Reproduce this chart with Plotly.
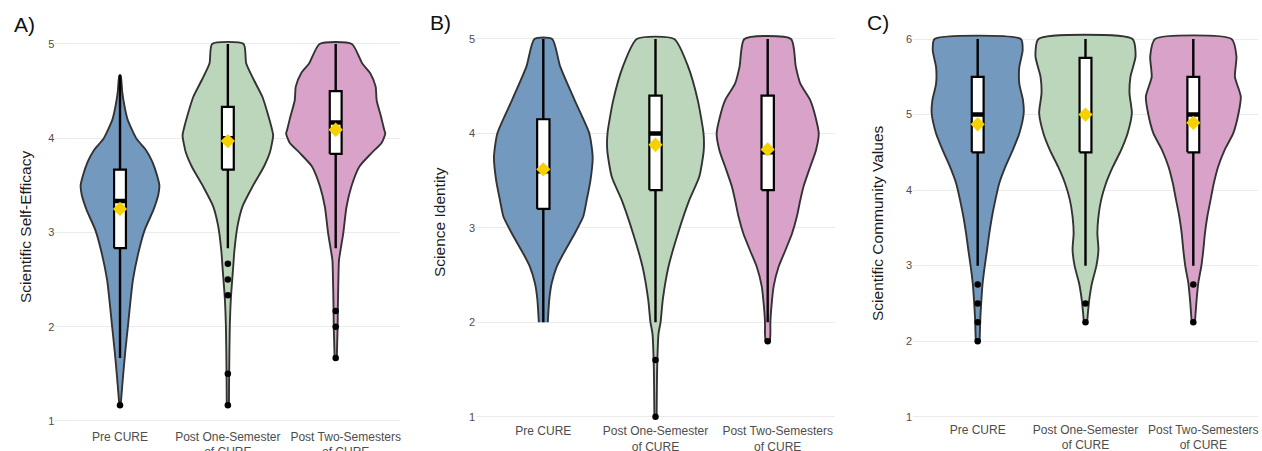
import plotly.graph_objects as go

# ---------------- data ----------------
NB = "\u00a0" * 6
categories = ["Pre CURE", "Post One-Semester<br>of CURE",
              NB + "Post Two-Semesters<br>" + NB + "of CURE"]

# Panel A: Scientific Self-Efficacy  (density profiles: level -> half width)
se_pre_y = [1.167, 1.25, 1.5, 1.75, 2.0, 2.25, 2.5, 2.83, 3.03, 3.24, 3.4, 3.5, 3.6, 3.75, 3.875, 4.0, 4.2, 4.35, 4.5, 4.667]
se_pre_d = [0.006, 0.012, 0.03, 0.05, 0.073, 0.095, 0.12, 0.18, 0.23, 0.31, 0.355, 0.365, 0.345, 0.30, 0.24, 0.15, 0.07, 0.04, 0.02, 0.006]
se_one_y = [1.167, 1.5, 2.0, 2.3, 2.64, 2.8, 3.07, 3.28, 3.49, 3.70, 3.85, 4.03, 4.09, 4.26, 4.44, 4.62, 4.795, 5.0]
se_one_d = [0.01, 0.012, 0.018, 0.028, 0.05, 0.06, 0.09, 0.137, 0.23, 0.335, 0.39, 0.42, 0.41, 0.37, 0.32, 0.24, 0.17, 0.146]
se_two_y = [1.667, 2.0, 2.2, 2.5, 2.7, 2.78, 2.99, 3.27, 3.49, 3.70, 3.84, 3.95, 4.05, 4.09, 4.23, 4.4, 4.55, 4.69, 4.795, 5.0]
se_two_d = [0.01, 0.018, 0.02, 0.025, 0.03, 0.04, 0.07, 0.10, 0.146, 0.22, 0.33, 0.425, 0.46, 0.45, 0.42, 0.38, 0.37, 0.32, 0.245, 0.15]
se_q1 = [2.833, 3.667, 3.833]
se_med = [3.333, 4.0, 4.167]
se_q3 = [3.667, 4.333, 4.5]
se_lo = [1.667, 2.833, 2.833]
se_hi = [4.667, 5.0, 5.0]
se_mean = [3.25, 3.97, 4.09]
se_out = [[1.167], [2.667, 2.5, 2.333, 1.5, 1.167], [2.167, 2.0, 1.667]]

# Panel B: Science Identity
si_pre_y = [2.0, 2.24, 2.41, 2.59, 2.73, 2.94, 3.12, 3.29, 3.5, 3.75, 4.0, 4.35, 4.71, 5.0]
si_pre_d = [0.04, 0.053, 0.074, 0.12, 0.18, 0.28, 0.356, 0.386, 0.42, 0.44, 0.41, 0.28, 0.15, 0.079]
si_one_y = [1.0, 1.53, 1.88, 2.0, 2.24, 2.59, 2.94, 3.29, 3.54, 3.82, 4.0, 4.35, 4.71, 5.0]
si_one_d = [0.01, 0.015, 0.027, 0.045, 0.065, 0.116, 0.20, 0.30, 0.39, 0.43, 0.428, 0.377, 0.29, 0.167]
si_two_y = [1.8, 1.88, 2.0, 2.16, 2.38, 2.59, 2.76, 2.94, 3.12, 3.29, 3.44, 3.65, 3.82, 4.0, 4.18, 4.35, 4.53, 4.71, 5.0]
si_two_d = [0.02, 0.024, 0.024, 0.033, 0.053, 0.098, 0.157, 0.217, 0.26, 0.29, 0.32, 0.38, 0.43, 0.455, 0.425, 0.38, 0.29, 0.25, 0.208]
si_q1 = [3.2, 3.4, 3.4]
si_med = [3.6, 4.0, 3.8]
si_q3 = [4.15, 4.4, 4.4]
si_lo = [2.0, 2.0, 2.0]
si_hi = [5.0, 5.0, 5.0]
si_mean = [3.62, 3.88, 3.83]
si_out = [[], [1.6, 1.0], [1.8]]

# Panel C: Scientific Community Values
sc_pre_y = [2.0, 2.1, 2.32, 2.54, 2.77, 2.99, 3.21, 3.43, 3.65, 3.87, 4.09, 4.31, 4.53, 4.75, 5.02, 5.19, 5.41, 5.63, 5.85, 6.0]
sc_pre_d = [0.018, 0.02, 0.025, 0.034, 0.046, 0.065, 0.087, 0.108, 0.133, 0.164, 0.20, 0.257, 0.325, 0.386, 0.427, 0.42, 0.386, 0.386, 0.417, 0.40]
sc_one_y = [2.25, 2.37, 2.54, 2.77, 2.99, 3.21, 3.43, 3.65, 3.87, 4.09, 4.31, 4.53, 4.75, 5.02, 5.28, 5.5, 5.77, 6.0]
sc_one_d = [0.015, 0.022, 0.034, 0.06, 0.10, 0.12, 0.11, 0.12, 0.145, 0.19, 0.254, 0.33, 0.39, 0.43, 0.408, 0.417, 0.464, 0.436]
sc_two_y = [2.25, 2.54, 2.77, 2.99, 3.21, 3.43, 3.65, 3.87, 4.09, 4.31, 4.53, 4.75, 5.02, 5.24, 5.5, 5.77, 6.0]
sc_two_d = [0.015, 0.03, 0.046, 0.074, 0.093, 0.108, 0.13, 0.16, 0.19, 0.23, 0.29, 0.37, 0.42, 0.44, 0.386, 0.40, 0.355]
sc_q1 = [4.5, 4.5, 4.5]
sc_med = [5.0, 5.0, 5.0]
sc_q3 = [5.5, 5.75, 5.5]
sc_lo = [3.0, 3.0, 3.0]
sc_hi = [6.0, 6.0, 6.0]
sc_mean = [4.87, 5.0, 4.89]
sc_out = [[2.75, 2.5, 2.25, 2.0], [2.5, 2.25], [2.75, 2.25]]

# ---------------- styling ----------------
FILLS = ["#7399be", "#bcd6bc", "#d9a3c9"]
FONT = "Liberation Sans, Arial, sans-serif"
W, H = 1262, 451
BOX_W = 0.11

panels = [
    dict(title="Scientific Self-Efficacy", label="A)",
         prof=[(se_pre_y, se_pre_d), (se_one_y, se_one_d), (se_two_y, se_two_d)],
         q1=se_q1, med=se_med, q3=se_q3, lo=se_lo, hi=se_hi, mean=se_mean, out=se_out,
         yrange=[0.95, 5.2], ticks=[1, 2, 3, 4, 5], standoff=2,
         xdom=(55.3, 400.4), ydom=(425.7, 25.1), title_x=25, title_y=227, label_xy=(24, 24)),
    dict(title="Science Identity", label="B)",
         prof=[(si_pre_y, si_pre_d), (si_one_y, si_one_d), (si_two_y, si_two_d)],
         q1=si_q1, med=si_med, q3=si_q3, lo=si_lo, hi=si_hi, mean=si_mean, out=si_out,
         yrange=[0.95, 5.2], ticks=[1, 2, 3, 4, 5], standoff=1,
         xdom=(476.0, 835.0), ydom=(421.4, 20.1), title_x=440, title_y=222, label_xy=(440, 22)),
    dict(title="Scientific Community Values", label="C)",
         prof=[(sc_pre_y, sc_pre_d), (sc_one_y, sc_one_d), (sc_two_y, sc_two_d)],
         q1=sc_q1, med=sc_med, q3=sc_q3, lo=sc_lo, hi=sc_hi, mean=sc_mean, out=sc_out,
         yrange=[0.95, 6.2], ticks=[1, 2, 3, 4, 5, 6], standoff=0,
         xdom=(913.0, 1258.0), ydom=(420.5, 23.9), title_x=878, title_y=223, label_xy=(878, 22)),
]

fig = go.Figure()
annotations = []


def line(xa, ya, xs, ys, width, color="black"):
    fig.add_trace(go.Scatter(x=xs, y=ys, xaxis=xa, yaxis=ya, mode="lines",
                             line=dict(color=color, width=width),
                             showlegend=False, hoverinfo="skip"))


for p_i, p in enumerate(panels):
    sfx = "" if p_i == 0 else str(p_i + 1)
    xa, ya = "x" + sfx, "y" + sfx
    # violins
    for c, (ys, ds) in enumerate(p["prof"]):
        xs = [c + d for d in ds] + [c - d for d in reversed(ds)]
        yy = list(ys) + list(reversed(ys))
        fig.add_trace(go.Scatter(x=xs, y=yy, xaxis=xa, yaxis=ya, mode="lines",
                                 fill="toself", fillcolor=FILLS[c],
                                 line=dict(color="#333333", width=1.9, shape="spline", smoothing=0.6),
                                 hoverinfo="skip", showlegend=False))
    # boxplots
    for c in range(3):
        hw = BOX_W / 2
        line(xa, ya, [c, c], [p["q3"][c], p["hi"][c]], 2.4)
        line(xa, ya, [c, c], [p["lo"][c], p["q1"][c]], 2.4)
        fig.add_trace(go.Scatter(x=[c - hw, c + hw, c + hw, c - hw, c - hw],
                                 y=[p["q1"][c], p["q1"][c], p["q3"][c], p["q3"][c], p["q1"][c]],
                                 xaxis=xa, yaxis=ya, mode="lines", fill="toself",
                                 fillcolor="white", line=dict(color="black", width=2.2),
                                 showlegend=False, hoverinfo="skip"))
        line(xa, ya, [c - hw, c + hw], [p["med"][c]] * 2, 4.5)
        if p["out"][c]:
            fig.add_trace(go.Scatter(x=[c] * len(p["out"][c]), y=p["out"][c], xaxis=xa, yaxis=ya,
                                     mode="markers", marker=dict(color="black", size=6.5),
                                     showlegend=False, hoverinfo="skip"))
        fig.add_trace(go.Scatter(x=[c], y=[p["mean"][c]], xaxis=xa, yaxis=ya, mode="markers",
                                 marker=dict(symbol="diamond", color="#f7d000", size=11,
                                             line=dict(width=0)),
                                 showlegend=False, hoverinfo="skip"))

    x0, x1 = p["xdom"]
    yb, yt = p["ydom"]
    fig.layout["xaxis" + sfx] = dict(
        domain=[x0 / W, x1 / W], range=[-0.6, 2.6], anchor=ya, automargin=False,
        tickvals=[0, 1, 2], ticktext=categories, tickangle=0, showgrid=False, zeroline=False,
        showline=False, ticks="", ticklabelstandoff=p["standoff"],
        tickfont=dict(family=FONT, size=12, color="#4d4d4d"), fixedrange=True)
    fig.layout["yaxis" + sfx] = dict(
        domain=[1 - yb / H, 1 - yt / H], range=p["yrange"], anchor=xa, automargin=False,
        tickvals=p["ticks"], showgrid=True, gridcolor="#ebebeb", gridwidth=1,
        zeroline=False, showline=False, ticks="",
        tickfont=dict(family=FONT, size=11, color="#4d4d4d"), fixedrange=True)
    annotations.append(dict(text=p["title"], x=p["title_x"] / W, y=1 - p["title_y"] / H,
                            xref="paper", yref="paper", showarrow=False, textangle=-90,
                            font=dict(family=FONT, size=15.5, color="#1a1a1a"),
                            xanchor="center", yanchor="middle"))
    annotations.append(dict(text=p["label"], x=p["label_xy"][0] / W, y=1 - p["label_xy"][1] / H,
                            xref="paper", yref="paper", showarrow=False,
                            font=dict(family=FONT, size=21, color="#111111"),
                            xanchor="center", yanchor="middle"))

fig.update_layout(width=W, height=H, margin=dict(l=0, r=0, t=0, b=0, autoexpand=False),
                  paper_bgcolor="white", plot_bgcolor="white",
                  annotations=annotations, showlegend=False)

fig.write_html("out.html", config={"displayModeBar": False, "staticPlot": True},
               post_script="document.body.style.margin='0';document.body.style.overflow='hidden';")
